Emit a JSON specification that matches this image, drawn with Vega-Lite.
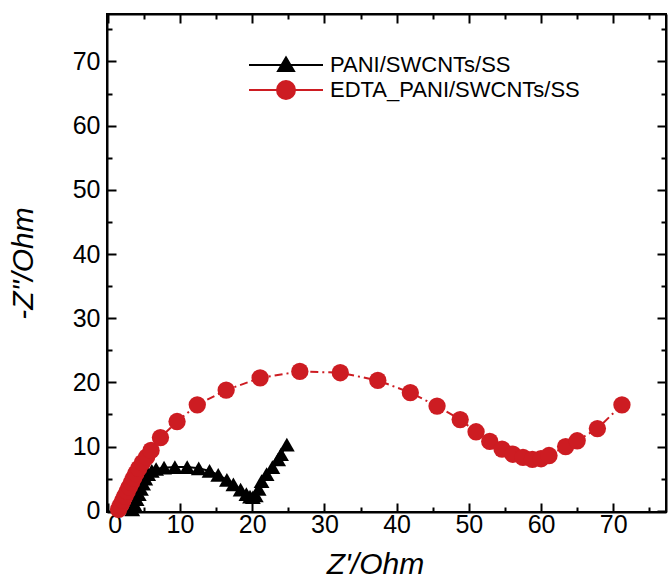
{
  "$schema": "https://vega.github.io/schema/vega-lite/v6.json",
  "width": 559,
  "height": 498,
  "autosize": {"type": "none"},
  "padding": {"left": 107, "top": 14, "right": 2, "bottom": 73},
  "background": "white",
  "config": {
    "view": {"stroke": "black", "strokeWidth": 2},
    "font": "Liberation Sans",
    "axis": {
      "grid": false,
      "domainColor": "black",
      "domainWidth": 2,
      "tickColor": "black",
      "tickWidth": 2,
      "labelColor": "black",
      "labelFont": "Liberation Sans",
      "labelFontSize": 25,
      "titleColor": "black",
      "titleFont": "Liberation Sans",
      "titleFontSize": 30,
      "titleFontStyle": "italic",
      "titleFontWeight": "normal"
    }
  },
  "data": {
    "values": [
      {"series": "PANI/SWCNTs/SS", "x": 3.4, "y": 0.2},
      {"series": "PANI/SWCNTs/SS", "x": 3.7, "y": 1.0},
      {"series": "PANI/SWCNTs/SS", "x": 4.0, "y": 1.8},
      {"series": "PANI/SWCNTs/SS", "x": 4.3, "y": 2.6},
      {"series": "PANI/SWCNTs/SS", "x": 4.6, "y": 3.4},
      {"series": "PANI/SWCNTs/SS", "x": 4.9, "y": 4.2},
      {"series": "PANI/SWCNTs/SS", "x": 5.2, "y": 5.0},
      {"series": "PANI/SWCNTs/SS", "x": 5.6, "y": 5.7},
      {"series": "PANI/SWCNTs/SS", "x": 6.1, "y": 6.2},
      {"series": "PANI/SWCNTs/SS", "x": 6.7, "y": 6.5},
      {"series": "PANI/SWCNTs/SS", "x": 7.8, "y": 6.7},
      {"series": "PANI/SWCNTs/SS", "x": 9.3, "y": 6.8},
      {"series": "PANI/SWCNTs/SS", "x": 11.0, "y": 6.8},
      {"series": "PANI/SWCNTs/SS", "x": 12.6, "y": 6.6},
      {"series": "PANI/SWCNTs/SS", "x": 14.1, "y": 6.2},
      {"series": "PANI/SWCNTs/SS", "x": 15.3, "y": 5.6},
      {"series": "PANI/SWCNTs/SS", "x": 16.5, "y": 4.8},
      {"series": "PANI/SWCNTs/SS", "x": 17.4, "y": 4.1},
      {"series": "PANI/SWCNTs/SS", "x": 18.4, "y": 3.3},
      {"series": "PANI/SWCNTs/SS", "x": 19.2, "y": 2.6},
      {"series": "PANI/SWCNTs/SS", "x": 19.7, "y": 2.2},
      {"series": "PANI/SWCNTs/SS", "x": 20.1, "y": 2.1},
      {"series": "PANI/SWCNTs/SS", "x": 20.5, "y": 2.4},
      {"series": "PANI/SWCNTs/SS", "x": 20.9, "y": 3.4},
      {"series": "PANI/SWCNTs/SS", "x": 21.3, "y": 4.6},
      {"series": "PANI/SWCNTs/SS", "x": 22.0, "y": 5.7},
      {"series": "PANI/SWCNTs/SS", "x": 22.8, "y": 6.8},
      {"series": "PANI/SWCNTs/SS", "x": 23.6, "y": 8.0},
      {"series": "PANI/SWCNTs/SS", "x": 24.0, "y": 8.8},
      {"series": "PANI/SWCNTs/SS", "x": 24.8, "y": 10.3},
      {"series": "EDTA_PANI/SWCNTs/SS", "x": 1.5, "y": 0.2},
      {"series": "EDTA_PANI/SWCNTs/SS", "x": 1.8, "y": 0.9},
      {"series": "EDTA_PANI/SWCNTs/SS", "x": 2.1, "y": 1.6},
      {"series": "EDTA_PANI/SWCNTs/SS", "x": 2.4, "y": 2.3},
      {"series": "EDTA_PANI/SWCNTs/SS", "x": 2.7, "y": 3.0},
      {"series": "EDTA_PANI/SWCNTs/SS", "x": 3.0, "y": 3.7},
      {"series": "EDTA_PANI/SWCNTs/SS", "x": 3.3, "y": 4.4},
      {"series": "EDTA_PANI/SWCNTs/SS", "x": 3.6, "y": 5.1},
      {"series": "EDTA_PANI/SWCNTs/SS", "x": 3.9, "y": 5.8},
      {"series": "EDTA_PANI/SWCNTs/SS", "x": 4.3, "y": 6.6},
      {"series": "EDTA_PANI/SWCNTs/SS", "x": 4.8, "y": 7.5},
      {"series": "EDTA_PANI/SWCNTs/SS", "x": 5.4, "y": 8.4},
      {"series": "EDTA_PANI/SWCNTs/SS", "x": 6.0, "y": 9.4},
      {"series": "EDTA_PANI/SWCNTs/SS", "x": 7.3, "y": 11.4},
      {"series": "EDTA_PANI/SWCNTs/SS", "x": 9.6, "y": 13.9},
      {"series": "EDTA_PANI/SWCNTs/SS", "x": 12.4, "y": 16.5},
      {"series": "EDTA_PANI/SWCNTs/SS", "x": 16.4, "y": 18.8},
      {"series": "EDTA_PANI/SWCNTs/SS", "x": 21.1, "y": 20.7},
      {"series": "EDTA_PANI/SWCNTs/SS", "x": 26.6, "y": 21.7},
      {"series": "EDTA_PANI/SWCNTs/SS", "x": 32.2, "y": 21.5},
      {"series": "EDTA_PANI/SWCNTs/SS", "x": 37.4, "y": 20.3},
      {"series": "EDTA_PANI/SWCNTs/SS", "x": 41.9, "y": 18.4},
      {"series": "EDTA_PANI/SWCNTs/SS", "x": 45.6, "y": 16.3},
      {"series": "EDTA_PANI/SWCNTs/SS", "x": 48.8, "y": 14.2},
      {"series": "EDTA_PANI/SWCNTs/SS", "x": 51.0, "y": 12.3},
      {"series": "EDTA_PANI/SWCNTs/SS", "x": 52.9, "y": 10.8},
      {"series": "EDTA_PANI/SWCNTs/SS", "x": 54.6, "y": 9.6},
      {"series": "EDTA_PANI/SWCNTs/SS", "x": 56.1, "y": 8.8},
      {"series": "EDTA_PANI/SWCNTs/SS", "x": 57.5, "y": 8.3},
      {"series": "EDTA_PANI/SWCNTs/SS", "x": 58.8, "y": 8.0},
      {"series": "EDTA_PANI/SWCNTs/SS", "x": 60.0, "y": 8.1},
      {"series": "EDTA_PANI/SWCNTs/SS", "x": 61.1, "y": 8.6},
      {"series": "EDTA_PANI/SWCNTs/SS", "x": 63.4, "y": 10.0},
      {"series": "EDTA_PANI/SWCNTs/SS", "x": 65.0, "y": 10.9},
      {"series": "EDTA_PANI/SWCNTs/SS", "x": 67.8, "y": 12.8},
      {"series": "EDTA_PANI/SWCNTs/SS", "x": 71.2, "y": 16.5}
    ]
  },
  "layer": [
    {
      "encoding": {
        "x": {
          "field": "x", "type": "quantitative",
          "scale": {"domain": [-0.1, 77.3], "nice": false, "zero": false},
          "axis": {
            "orient": "bottom",
            "title": "Z'/Ohm",
            "values": [0, 5, 10, 15, 20, 25, 30, 35, 40, 45, 50, 55, 60, 65, 70, 75],
            "labelExpr": "datum.value % 10 === 0 ? datum.label : ''",
            "tickSize": {"condition": {"test": "datum.value % 10 === 0", "value": -9}, "value": -5},
            "labelPadding": 9,
            "titlePadding": 12,
            "titleX": 268
          }
        },
        "y": {
          "field": "y", "type": "quantitative",
          "scale": {"domain": [-0.2, 77.4], "nice": false, "zero": false},
          "axis": {
            "orient": "left",
            "title": "-Z\"/Ohm",
            "values": [0, 5, 10, 15, 20, 25, 30, 35, 40, 45, 50, 55, 60, 65, 70, 75],
            "labelExpr": "datum.value % 10 === 0 ? datum.label : ''",
            "tickSize": {"condition": {"test": "datum.value % 10 === 0", "value": -9}, "value": -5},
            "labelPadding": 16,
            "titlePadding": 34
          }
        }
      },
      "layer": [
        {
          "transform": [{"filter": "datum.series === 'PANI/SWCNTs/SS'"}],
          "mark": {"type": "line", "color": "black", "strokeWidth": 2}
        },
        {
          "transform": [{"filter": "datum.series === 'PANI/SWCNTs/SS'"}],
          "mark": {"type": "point", "shape": "triangle-up", "filled": true, "color": "black", "opacity": 1, "size": 250}
        },
        {
          "transform": [{"filter": "datum.series === 'EDTA_PANI/SWCNTs/SS'"}],
          "mark": {"type": "line", "color": "#cd1c22", "strokeWidth": 2, "strokeDash": [8, 4, 2, 4]}
        },
        {
          "transform": [{"filter": "datum.series === 'EDTA_PANI/SWCNTs/SS'"}],
          "mark": {"type": "point", "shape": "circle", "filled": true, "color": "#cd1c22", "opacity": 1, "size": 300}
        }
      ]
    },
    {
      "transform": [{"filter": "datum.x < -100"}],
      "mark": {"type": "point", "opacity": 1, "filled": true, "strokeWidth": 2},
      "encoding": {
        "x": {
          "field": "x", "type": "quantitative",
          "axis": {
            "orient": "top",
            "title": null,
            "labels": false,
            "values": [0, 5, 10, 15, 20, 25, 30, 35, 40, 45, 50, 55, 60, 65, 70, 75],
            "tickSize": {"condition": {"test": "datum.value % 10 === 0", "value": -9}, "value": -5}
          }
        },
        "y": {
          "field": "y", "type": "quantitative",
          "axis": {
            "orient": "right",
            "title": null,
            "labels": false,
            "values": [0, 5, 10, 15, 20, 25, 30, 35, 40, 45, 50, 55, 60, 65, 70, 75],
            "tickSize": {"condition": {"test": "datum.value % 10 === 0", "value": -9}, "value": -5}
          }
        },
        "fill": {
          "field": "series", "type": "nominal",
          "scale": {"domain": ["PANI/SWCNTs/SS", "EDTA_PANI/SWCNTs/SS"], "range": ["black", "#cd1c22"]},
          "legend": {
            "title": null,
            "orient": "none",
            "legendX": 168,
            "legendY": 40,
            "padding": 0,
            "symbolSize": 400,
            "symbolOpacity": 1,
            "symbolStrokeWidth": 2,
            "labelOffset": 33,
            "labelFont": "Liberation Sans",
            "labelFontSize": 22,
            "labelColor": "black",
            "rowPadding": 1,
            "labelLimit": 400
          }
        },
        "stroke": {
          "field": "series", "type": "nominal",
          "scale": {"domain": ["PANI/SWCNTs/SS", "EDTA_PANI/SWCNTs/SS"], "range": ["black", "#cd1c22"]}
        },
        "shape": {
          "field": "series", "type": "nominal",
          "scale": {
            "domain": ["PANI/SWCNTs/SS", "EDTA_PANI/SWCNTs/SS"],
            "range": [
              "M-3.7,0H3.7M-0.8,0.6L0,-0.75L0.8,0.6Z",
              "M-3.7,0H3.7M-0.9,0A0.9,0.9 0 1,0 0.9,0A0.9,0.9 0 1,0 -0.9,0Z"
            ]
          }
        }
      }
    }
  ],
  "resolve": {"axis": {"x": "independent", "y": "independent"}}
}
